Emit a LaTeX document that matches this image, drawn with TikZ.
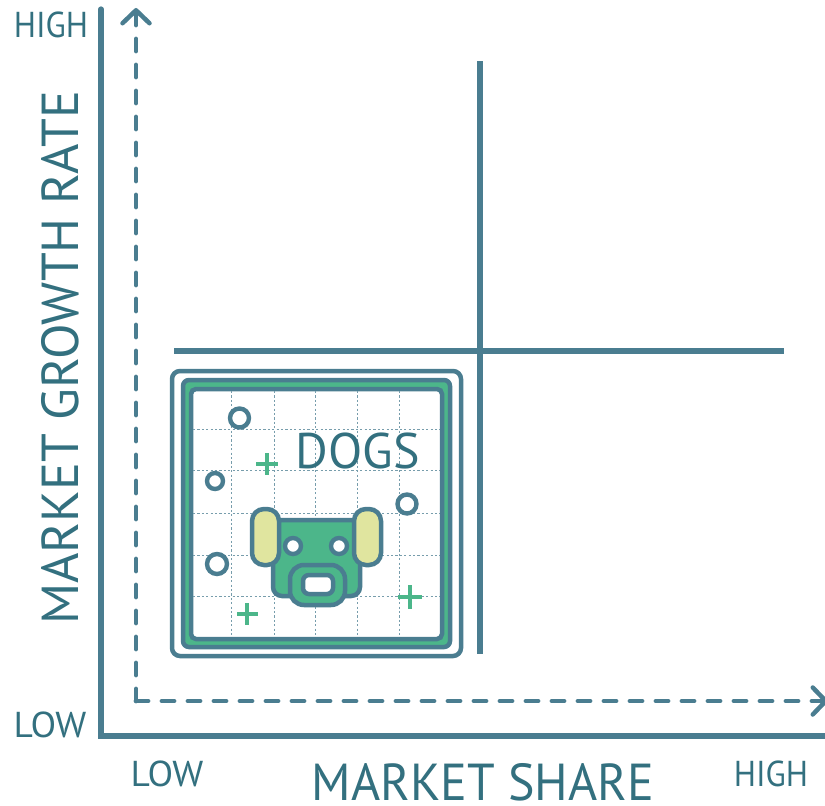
\documentclass[tikz,border=0pt]{standalone}
\usepackage{fontspec}
\usepackage{tikz}
\usetikzlibrary{arrows.meta}
\setmainfont{PT Sans}
\definecolor{teal1}{HTML}{4A7D90}
\definecolor{tealtext}{HTML}{33707F}
\definecolor{green1}{HTML}{4CB68A}
\definecolor{ear1}{HTML}{E0E59F}
\begin{document}
\begin{tikzpicture}[x=1pt,y=-1pt,
  axis/.style = {draw=teal1,line width=5.2pt},
  dashaxis/.style = {draw=teal1,line width=4.8pt,dash pattern=on 12pt off 14pt,line cap=round,-{Straight Barb[length=13pt,width=27pt,line width=4.5pt,round]}},
  small/.style = {anchor=base,inner sep=0pt,text=tealtext,font=\fontsize{36}{36}\selectfont},
  big/.style = {anchor=base,inner sep=0pt,text=tealtext,font=\fontsize{52}{52}\selectfont},
  grid1/.style = {draw=teal1!75,line width=1pt,dash pattern=on 2.2pt off 2.2pt},
  dot/.style = {draw=teal1,line width=4.4pt,fill=white,circle,inner sep=0pt},
  plus/.style = {draw=green1,line width=3.4pt},
  part/.style = {draw=teal1,line width=4.5pt,rounded corners=#1}]
\useasboundingbox (0,0) rectangle (825,806);
% axes
\coordinate (top) at (101,9);
\coordinate (origin) at (101,736);
\coordinate (right) at (830,736);
\draw[axis,line cap=round,line join=miter] (top) -- (origin) -- (right);
\coordinate (top2) at (136,8);
\coordinate (origin2) at (136,701);
\coordinate (right2) at (828,701);
\draw[dashaxis] (origin2) -- (top2);
\draw[dashaxis] (origin2) -- (right2);
% labels
\node[small,xscale=0.92] (high1) at (51,37) {HIGH};
\node[small,xscale=1.04] (low1) at (50,737) {LOW};
\node[small,xscale=1.04] (low2) at (167,786) {LOW};
\node[small,xscale=0.92] (high2) at (771,786) {HIGH};
\node[big,xscale=0.96] (share) at (483,800) {MARKET SHARE};
\node[big,rotate=90] (growth) at (78,358) {MARKET GROWTH RATE};
% quadrant lines
\coordinate (a) at (480,61);
\coordinate (b) at (480,654);
\coordinate (c) at (174,351);
\coordinate (d) at (784,351);
\draw[axis] (a) -- (b);
\draw[axis] (c) -- (d);
% card
\draw[part=8pt,fill=white] (172,371) rectangle (461,656);
\draw[part=6pt,fill=green1] (183,380) rectangle (450,647);
\draw[part=5pt,fill=white] (191,389) rectangle (442,639);
\foreach \x in {231,274,315,357,399} \draw[grid1] (\x,391) -- (\x,637);
\foreach \y in {429,470,513,555,596} \draw[grid1] (193,\y) -- (440,\y);
\node[big,font=\fontsize{50}{50}\selectfont] (dogs) at (358,468) {DOGS};
% circles
\node[dot,minimum size=19pt] (c1) at (239.5,418) {};
\node[dot,minimum size=16pt] (c2) at (215,481) {};
\node[dot,minimum size=20pt] (c3) at (217,564) {};
\node[dot,minimum size=19pt] (c4) at (407,504) {};
% plus signs
\draw[plus] (256,464) -- (278,464) (267,453) -- (267,475);
\draw[plus] (237,614) -- (258,614) (247,603) -- (247,625);
\draw[plus] (398,597) -- (422,597) (410,585) -- (410,609);
% dog
\draw[part=9pt,fill=green1] (273,520) rectangle (360,596);
\draw[part=12pt,fill=ear1] (252,509) rectangle (279,565);
\draw[part=12pt,fill=ear1] (354,509) rectangle (381,565);
\node[dot,minimum size=16pt] (eye1) at (293,546) {};
\node[dot,minimum size=16pt] (eye2) at (339,546) {};
\draw[part=14pt,fill=green1] (290,565) rectangle (345,605);
\draw[part=6pt,fill=white] (303,575) rectangle (333,594);
\end{tikzpicture}
\end{document}
